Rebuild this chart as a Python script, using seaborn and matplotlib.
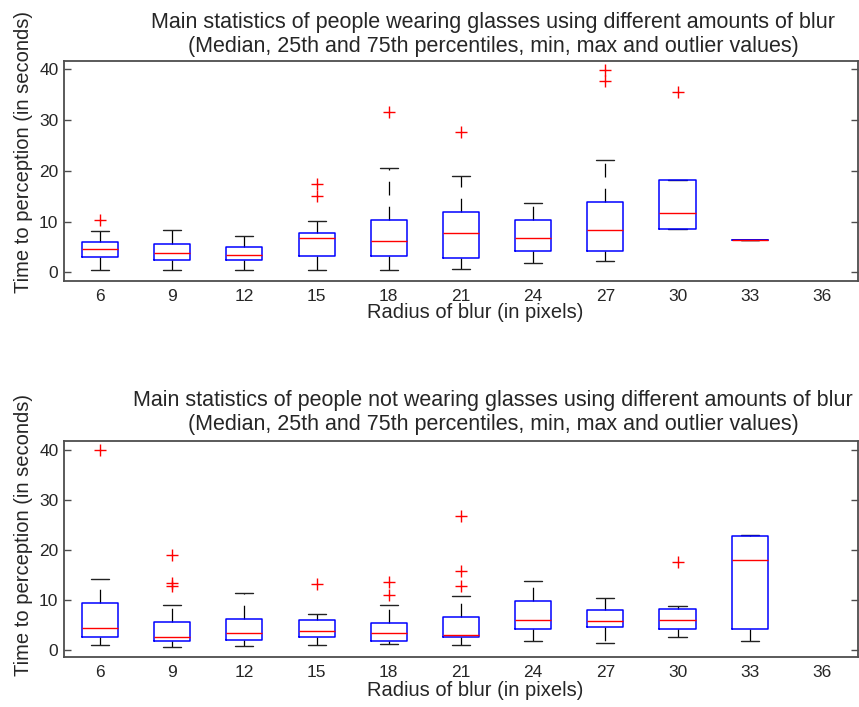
import matplotlib
matplotlib.use("Agg")
import matplotlib.pyplot as plt
import numpy as np
import pandas as pd
import seaborn as sns

# Blur radii (pixels) shown on the categorical axis
radii = ["6", "9", "12", "15", "18", "21", "24", "27", "30", "33", "36"]

# Time to perception (s) for people wearing glasses, per blur radius
glasses_6 = [0.45, 1.6, 2.5, 3.0, 3.6, 4.2, 4.7, 5.1, 5.6, 6.0, 6.8, 7.4, 8.15]
glasses_9 = [0.45, 1.2, 1.9, 2.4, 2.9, 3.4, 3.9, 4.4, 5.0, 5.5, 6.3, 7.2, 8.35]
glasses_12 = [0.45, 1.3, 2.0, 2.4, 2.8, 3.1, 3.4, 3.8, 4.4, 4.9, 5.6, 6.4, 7.2]
glasses_15 = [0.45, 1.5, 2.6, 3.2, 4.5, 5.9, 6.85, 7.1, 7.4, 7.75, 8.5, 9.2, 10.05]
glasses_18 = [0.45, 1.4, 2.5, 3.2, 4.3, 5.4, 6.25, 7.5, 8.9, 10.25, 12.8, 16.0, 20.5]
glasses_21 = [0.65, 1.5, 2.2, 2.8, 4.4, 6.1, 7.75, 9.0, 10.4, 11.8, 13.9, 16.2, 19.05]
glasses_24 = [1.9, 2.7, 3.5, 4.15, 5.1, 6.0, 6.85, 7.9, 9.1, 10.25, 11.3, 12.4, 13.7]
glasses_27 = [2.15, 2.9, 3.6, 4.15, 5.6, 7.0, 8.35, 10.1, 12.0, 13.9, 16.5, 19.3, 22.2]
glasses_30 = [8.55, 8.55, 11.6, 18.15, 18.15]
glasses_33 = [6.3]
glasses_36 = []
glasses_outliers = {
    "6": [10.25],
    "15": [15.1, 17.35],
    "18": [31.5],
    "21": [27.55],
    "27": [37.7, 39.9],
    "30": [35.55],
}

# Time to perception (s) for people not wearing glasses, per blur radius
bare_6 = [0.93, 1.6, 2.2, 2.66, 3.2, 3.8, 4.4, 6.0, 7.8, 9.5, 11.0, 12.6, 14.3]
bare_9 = [0.53, 0.9, 1.3, 1.72, 2.0, 2.3, 2.66, 3.6, 4.6, 5.65, 6.8, 7.9, 9.1]
bare_12 = [0.73, 1.2, 1.6, 2.0, 2.5, 3.0, 3.5, 4.4, 5.4, 6.3, 8.0, 9.7, 11.5]
bare_15 = [0.93, 1.5, 2.1, 2.66, 3.1, 3.5, 3.9, 4.6, 5.4, 6.1, 6.5, 6.9, 7.2]
bare_18 = [1.2, 1.4, 1.55, 1.72, 2.3, 2.9, 3.5, 4.2, 4.8, 5.45, 6.6, 7.8, 9.1]
bare_21 = [0.93, 1.6, 2.2, 2.66, 2.8, 2.9, 3.05, 4.3, 5.5, 6.6, 8.0, 9.4, 10.85]
bare_24 = [1.8, 2.6, 3.4, 4.2, 4.8, 5.5, 6.1, 7.3, 8.6, 9.8, 11.2, 12.5, 13.9]
bare_27 = [1.33, 2.4, 3.5, 4.6, 5.0, 5.5, 5.9, 6.6, 7.3, 8.05, 8.8, 9.6, 10.45]
bare_30 = [2.66, 3.2, 3.7, 4.2, 4.8, 5.5, 6.1, 6.8, 7.5, 8.25, 8.5, 8.7, 8.9]
bare_33 = [1.8, 4.2, 18.0, 22.75, 22.95]
bare_36 = []
bare_outliers = {
    "6": [40.0],
    "9": [12.85, 13.4, 19.0],
    "15": [13.25],
    "18": [11.0, 13.7],
    "21": [12.8, 15.85, 26.9],
    "30": [17.6],
}

glasses = [glasses_6, glasses_9, glasses_12, glasses_15, glasses_18, glasses_21,
           glasses_24, glasses_27, glasses_30, glasses_33, glasses_36]
bare = [bare_6, bare_9, bare_12, bare_15, bare_18, bare_21,
        bare_24, bare_27, bare_30, bare_33, bare_36]

titles = [
    "Main statistics of people wearing glasses using different amounts of blur\n"
    "(Median, 25th and 75th percentiles, min, max and outlier values)",
    "Main statistics of people not wearing glasses using different amounts of blur\n"
    "(Median, 25th and 75th percentiles, min, max and outlier values)",
]


def long_frame(groups):
    rows = [(r, v) for r, vals in zip(radii, groups) for v in vals]
    return pd.DataFrame(rows, columns=["radius", "time"])


def outlier_frame(outl):
    rows = [(r, v) for r, vals in outl.items() for v in vals]
    return pd.DataFrame(rows, columns=["radius", "time"])


sns.set_style("white")
plt.rcParams["font.family"] = ["Liberation Sans", "DejaVu Sans"]

fig = plt.figure(figsize=(8.59, 7.07), dpi=100)
ax_top = fig.add_axes([0.0745, 0.6025, 0.9243, 0.3112])
ax_bot = fig.add_axes([0.0745, 0.0707, 0.9243, 0.3055])

panels = [
    (ax_top, glasses, glasses_outliers, (-1.7, 41.6), titles[0], 0.983, 0.586, -0.10),
    (ax_bot, bare, bare_outliers, (-1.4, 41.85), titles[1], 0.448, 0.565, -0.11),
]

spine_col = "#4d4d4d"
for ax, groups, outl, ylim, title, ty, ylab_y, xlab_y in panels:
    sns.boxplot(
        data=long_frame(groups), x="radius", y="time", order=radii,
        fill=False, width=0.5, whis=(0, 100), showfliers=False,
        linewidth=1.0, linecolor="black",
        boxprops={"color": "blue", "linewidth": 1.1, "zorder": 3},
        medianprops={"color": "red", "linewidth": 1.0, "zorder": 4},
        whiskerprops={"color": "black", "linewidth": 0.9,
                      "linestyle": (0, (11, 9)), "zorder": 2},
        capprops={"color": "#222222", "linewidth": 1.0, "zorder": 2},
        ax=ax,
    )
    sns.stripplot(
        data=outlier_frame(outl), x="radius", y="time", order=radii,
        jitter=False, marker="+", color="red", size=8, linewidth=1.0, ax=ax,
    )
    ax.set_xlim(-0.5, 10.5)
    ax.set_ylim(*ylim)
    ax.set_yticks([0, 10, 20, 30, 40])
    ax.set_xlabel("Radius of blur (in pixels)", fontsize=14.5)
    ax.set_ylabel("Time to perception (in seconds)", fontsize=14.5)
    ax.xaxis.set_label_coords(0.5176, xlab_y)
    ax.yaxis.set_label_coords(-0.039, ylab_y)
    ax.tick_params(axis="y", direction="in", length=5, width=1, color=spine_col,
                   left=True, right=True, labelsize=12.5, pad=4)
    ax.tick_params(axis="x", length=0, labelsize=12.5, pad=6)
    for s in ax.spines.values():
        s.set_visible(True)
        s.set_color(spine_col)
        s.set_linewidth(1.3)
    fig.text(0.574, ty, title, ha="center", va="top", fontsize=15.5,
             multialignment="center", linespacing=1.2)

fig.savefig("out.png", dpi=100)
